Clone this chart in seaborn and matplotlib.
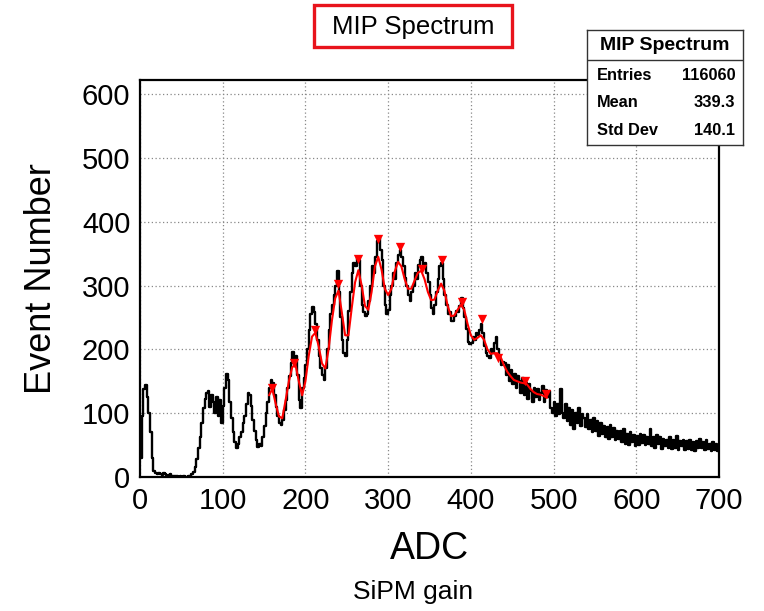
import numpy as np
import pandas as pd
import matplotlib
matplotlib.use("Agg")
import matplotlib.pyplot as plt
from matplotlib.patches import Rectangle
import seaborn as sns

# ---------------- data ----------------
bin_width = 2
bin_start = 0
counts = [
    30, 95, 138, 144, 125, 100, 70, 30, 10, 6,
    4, 7, 5, 3, 6, 4, 2, 3, 5, 2,
    1, 2, 1, 0, 1, 0, 1, 0, 0, 1,
    2, 4, 8, 16, 28, 45, 62, 85, 108, 122,
    131, 134, 110, 128, 118, 100, 125, 95, 120, 84,
    112, 140, 161, 152, 118, 92, 70, 55, 46, 52,
    62, 70, 85, 95, 115, 131, 128, 112, 90, 72,
    58, 47, 52, 48, 62, 80, 100, 118, 140, 152,
    148, 128, 110, 95, 84, 81, 90, 105, 120, 140,
    158, 178, 196, 185, 190, 160, 120, 108, 140, 155,
    175, 200, 230, 255, 267, 258, 240, 215, 190, 170,
    160, 152, 170, 200, 230, 255, 270, 285, 300, 322,
    290, 250, 215, 195, 190, 215, 260, 290, 320, 335,
    330, 345, 340, 300, 270, 258, 252, 255, 275, 300,
    330, 320, 345, 370, 375, 355, 340, 300, 270, 255,
    262, 285, 300, 320, 310, 335, 348, 356, 345, 330,
    312, 300, 285, 275, 290, 300, 320, 310, 332, 340,
    345, 330, 335, 320, 305, 285, 265, 255, 270, 290,
    310, 330, 335, 310, 285, 270, 255, 258, 245, 245,
    252, 260, 258, 268, 280, 265, 250, 232, 212, 208,
    210, 220, 215, 225, 222, 230, 240, 225, 205, 195,
    190, 186, 200, 195, 210, 220, 200, 185, 175, 180,
    178, 160, 175, 150, 168, 145, 162, 140, 158, 150,
    132, 155, 128, 148, 122, 145, 135, 118, 140, 125,
    138, 120, 132, 142, 118, 137, 125, 135, 108, 100,
    118, 95, 115, 98, 138, 100, 92, 115, 88, 108,
    82, 105, 75, 100, 85, 108, 80, 98, 92, 78,
    98, 75, 90, 70, 92, 72, 88, 65, 84, 68,
    80, 62, 78, 60, 82, 62, 76, 58, 72, 60,
    72, 55, 75, 52, 68, 50, 70, 55, 66, 48,
    64, 50, 68, 54, 66, 50, 62, 52, 75, 48,
    62, 46, 66, 52, 62, 44, 60, 48, 58, 46,
    62, 44, 58, 46, 64, 42, 56, 48, 58, 42,
    56, 44, 58, 42, 55, 40, 57, 45, 60, 46,
    55, 42, 58, 44, 52, 40, 55, 43, 52, 40,
]

# smoothed spectrum (red) and found peaks
smooth_x = [156, 160, 164, 168, 172, 176, 180, 184, 188, 192, 196, 200, 204, 208,
            212, 216, 220, 224, 228, 232, 236, 240, 244, 248, 252, 256, 260, 264,
            268, 272, 276, 280, 284, 288, 292, 296, 300, 304, 308, 312, 316, 320,
            324, 328, 332, 336, 340, 344, 348, 352, 356, 360, 364, 368, 372, 376,
            380, 384, 388, 392, 396, 400, 404, 408, 412, 416, 420, 424, 428, 432,
            436, 440, 444, 448, 452, 456, 460, 464, 468, 472, 476, 480, 484, 488, 492]
smooth_y = [128, 138, 115, 95, 92, 120, 150, 172, 176, 150, 128, 150, 190, 220,
            226, 205, 178, 170, 200, 245, 280, 292, 258, 222, 222, 265, 305, 324,
            300, 268, 262, 290, 330, 345, 325, 295, 285, 295, 322, 337, 330, 310,
            295, 295, 308, 320, 323, 310, 290, 277, 278, 292, 303, 292, 268, 252,
            253, 262, 270, 262, 240, 222, 215, 218, 222, 215, 200, 193, 194, 194,
            188, 175, 165, 158, 152, 150, 148, 147, 145, 138, 133, 130, 129, 127, 124]
peak_x = [159, 186.6, 211.6, 239, 263, 288, 314, 340.6, 364.8, 389.7, 414, 433, 465.5, 490.5]
peak_y = [140, 179, 230, 302, 341, 373, 360, 326, 340, 274, 247, 187, 151, 130]

x_ticks = [0, 100, 200, 300, 400, 500, 600, 700]
y_ticks = [0, 100, 200, 300, 400, 500, 600]

stats_title = "MIP Spectrum"
stats_rows = [("Entries", "116060"), ("Mean", "339.3"), ("Std Dev", "140.1")]

# ---------------- plotting ----------------
sns.set_style("white")
plt.rcParams["font.family"] = ["Liberation Sans", "DejaVu Sans"]
plt.rcParams["text.color"] = "black"
plt.rcParams["axes.labelcolor"] = "black"

W, H = 764, 611
fig = plt.figure(figsize=(W / 100, H / 100), dpi=100)
fig.patch.set_facecolor("white")

L, R, T, B = 140, 719, 80, 477
ax = fig.add_axes([L / W, 1 - B / H, (R - L) / W, (B - T) / H])

n_bins = len(counts)
centers = bin_start + bin_width * (np.arange(n_bins) + 0.5)
df = pd.DataFrame({"adc": centers, "n": counts})
sns.histplot(data=df, x="adc", weights="n", binwidth=bin_width,
             binrange=(bin_start, bin_start + bin_width * n_bins),
             element="step", fill=False, color="black", linewidth=1.7, ax=ax)

sm = pd.DataFrame({"x": smooth_x, "y": smooth_y})
sns.lineplot(data=sm, x="x", y="y", color="red", linewidth=1.5, ax=ax, zorder=4)
pk = pd.DataFrame({"x": peak_x, "y": peak_y})
sns.scatterplot(data=pk, x="x", y="y", marker="v", color="red", s=45,
                edgecolor="red", linewidth=0, ax=ax, zorder=5)

ax.set_xlim(0, 700)
ax.set_ylim(0, 622)
ax.set_xticks(x_ticks)
ax.set_yticks(y_ticks)
ax.set_xticks(np.arange(0, 701, 20), minor=True)
ax.set_yticks(np.arange(0, 621, 20), minor=True)
ax.tick_params(axis="both", which="major", direction="in", length=11, width=1.2,
               labelsize=21, pad=7, colors="black")
ax.tick_params(axis="both", which="minor", direction="in", length=6, width=1.0)
ax.tick_params(top=False, right=False, which="both")
ax.grid(True, which="major", linestyle=(0, (1, 2)), color="#888888", linewidth=0.9)
for s in ax.spines.values():
    s.set_color("black")
    s.set_linewidth(1.6)

ax.set_xlabel("ADC", fontsize=27, color="black")
ax.set_ylabel("Event Number", fontsize=26, color="black")
ax.xaxis.set_label_coords(0.5, -0.135)
ax.yaxis.set_label_coords(-0.14, 0.5)

# title box
fig.patches.append(Rectangle((314 / W, 1 - 47 / H), 198 / W, 42 / H,
                             transform=fig.transFigure, facecolor="white",
                             edgecolor="#e8141c", linewidth=2.4, zorder=5))
fig.text(413 / W, 1 - 27 / H, "MIP Spectrum", ha="center", va="center",
         fontsize=18.5, color="black", zorder=6)

# footer
fig.text(413 / W, 1 - 592 / H, "SiPM gain", ha="center", va="center",
         fontsize=19, color="black")

# stats box
sx0, sx1, sy0, sy1 = 587, 743, 30, 145
sax = fig.add_axes([sx0 / W, 1 - sy1 / H, (sx1 - sx0) / W, (sy1 - sy0) / H])
sax.set_facecolor("white")
sax.set_xticks([])
sax.set_yticks([])
sax.set_xlim(0, 1)
sax.set_ylim(0, 1)
for s in sax.spines.values():
    s.set_color("#333333")
    s.set_linewidth(1.0)
sep = (sy1 - 60) / (sy1 - sy0)
sax.axhline(sep, color="#333333", linewidth=1.0)
sax.text(0.5, (sy1 - 45) / (sy1 - sy0), stats_title, ha="center", va="center",
         fontsize=14, fontweight="bold", color="black")
row_y = [75, 103, 131]
for (lab, val), yy in zip(stats_rows, row_y):
    yf = (sy1 - yy) / (sy1 - sy0)
    sax.text(0.064, yf, lab, ha="left", va="center", fontsize=11.8,
             fontweight="bold", color="black")
    sax.text(0.95, yf, val, ha="right", va="center", fontsize=11.8,
             fontweight="bold", color="black")

fig.savefig("out.png", dpi=100, facecolor="white")
